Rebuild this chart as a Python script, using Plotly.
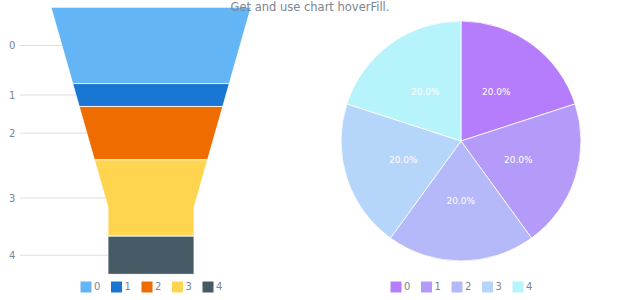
import plotly.graph_objects as go

# ---- data ----
funnel_labels = ["0", "1", "2", "3", "4"]
funnel_values = [1000, 300, 700, 1000, 500]
funnel_colors = ["#64b5f6", "#1976d2", "#ef6c00", "#ffd54f", "#455a64"]

pie_labels = ["0", "1", "2", "3", "4"]
pie_values = [1, 1, 1, 1, 1]
pie_colors = ["#b57dfc", "#b49bfa", "#b5b9f9", "#b6d5fa", "#b7f3fa"]

title_text = "Get and use chart hoverFill."

# ---- funnel geometry (style) ----
NECK_HEIGHT = 0.25   # fraction of total height
NECK_WIDTH = 0.43    # fraction of top width
TEXT_GRAY = "#7c868e"
FONT = "DejaVu Sans"

total = sum(funnel_values)
neck_y = total * (1 - NECK_HEIGHT)


def half_width(y):
    if y >= neck_y:
        return NECK_WIDTH
    return 1 - (1 - NECK_WIDTH) * (y / neck_y)


fig = go.Figure()

cum = 0
for lab, val, col in zip(funnel_labels, funnel_values, funnel_colors):
    y0, y1 = cum, cum + val
    ys = [y0]
    if y0 < neck_y < y1:
        ys.append(neck_y)
    ys.append(y1)
    xs_left = [-half_width(y) for y in ys]
    xs_right = [half_width(y) for y in reversed(ys)]
    px = xs_left + xs_right + [xs_left[0]]
    py = ys + list(reversed(ys)) + [ys[0]]
    fig.add_trace(go.Scatter(
        x=px, y=py, mode="lines", fill="toself", fillcolor=col,
        line=dict(color="white", width=0.8), name=lab, showlegend=False,
        hoverinfo="name", xaxis="x", yaxis="y",
    ))
    yc = (y0 + y1) / 2
    # connector line to label
    fig.add_trace(go.Scatter(
        x=[-1.31, -half_width(yc)], y=[yc, yc], mode="lines",
        line=dict(color="#dedede", width=1), showlegend=False,
        hoverinfo="skip", xaxis="x", yaxis="y",
    ))
    fig.add_annotation(x=-1.39, y=yc, xref="x", yref="y", text=lab,
                       showarrow=False, xanchor="center", yanchor="middle",
                       font=dict(size=10, color=TEXT_GRAY, family=FONT))
    cum = y1

pie_domain = dict(x=[341 / 620, 581 / 620], y=[1 - 261 / 300, 1 - 21 / 300])
fig.add_trace(go.Pie(
    labels=pie_labels, values=pie_values, sort=False, direction="clockwise",
    rotation=0, marker=dict(colors=pie_colors, line=dict(color="white", width=0.8)),
    textinfo="none", domain=pie_domain, showlegend=False,
))

# percentage labels (transparent overlay pie so labels sit nearer the centre)
cx = (pie_domain["x"][0] + pie_domain["x"][1]) / 2
cy = (pie_domain["y"][0] + pie_domain["y"][1]) / 2
k = 0.8
hw = (pie_domain["x"][1] - pie_domain["x"][0]) / 2 * k
hh = (pie_domain["y"][1] - pie_domain["y"][0]) / 2 * k
fig.add_trace(go.Pie(
    labels=pie_labels, values=pie_values, sort=False, direction="clockwise",
    rotation=0, marker=dict(colors=["rgba(0,0,0,0)"] * len(pie_values)),
    texttemplate="%{percent:.1%}", textposition="inside",
    insidetextorientation="horizontal",
    textfont=dict(color="white", size=9, family=FONT),
    domain=dict(x=[cx - hw, cx + hw], y=[cy - hh, cy + hh]),
    showlegend=False, hoverinfo="skip",
))

# legends (square markers on small category axes)
legend_range = [-86 / 30.5, (310 - 86) / 30.5]
fig.add_trace(go.Scatter(
    x=funnel_labels, y=[0] * len(funnel_labels), mode="markers+text",
    marker=dict(symbol="square", size=11, color=funnel_colors),
    text=funnel_labels, textposition="middle right",
    textfont=dict(size=10, color=TEXT_GRAY, family=FONT),
    xaxis="x2", yaxis="y2", showlegend=False, hoverinfo="skip",
))
fig.add_trace(go.Scatter(
    x=pie_labels, y=[0] * len(pie_labels), mode="markers+text",
    marker=dict(symbol="square", size=11, color=pie_colors),
    text=pie_labels, textposition="middle right",
    textfont=dict(size=10, color=TEXT_GRAY, family=FONT),
    xaxis="x3", yaxis="y3", showlegend=False, hoverinfo="skip",
))

leg_y = 1 - 287 / 300
fig.update_layout(
    width=620, height=300,
    margin=dict(l=0, r=0, t=0, b=0),
    paper_bgcolor="white", plot_bgcolor="white",
    font=dict(family=FONT, color=TEXT_GRAY),
    title=dict(text=title_text, x=0.5, xanchor="center", y=1 - 7 / 300,
               yanchor="middle", font=dict(size=11.5, color=TEXT_GRAY)),
    xaxis=dict(domain=[0, 0.5], range=[-1.51, 1.59], visible=False,
               fixedrange=True),
    yaxis=dict(domain=[1 - 274.3 / 300, 1 - 7.3 / 300], range=[total, 0],
               visible=False, fixedrange=True),
    xaxis2=dict(domain=[0, 0.5], range=legend_range, type="category",
                visible=False, fixedrange=True),
    yaxis2=dict(domain=[leg_y - 0.03, leg_y + 0.03], range=[-1, 1],
                visible=False, fixedrange=True),
    xaxis3=dict(domain=[0.5, 1], range=legend_range, type="category",
                visible=False, fixedrange=True),
    yaxis3=dict(domain=[leg_y - 0.03, leg_y + 0.03], range=[-1, 1],
                visible=False, fixedrange=True),
    showlegend=False,
)

fig.write_html("out.html")
